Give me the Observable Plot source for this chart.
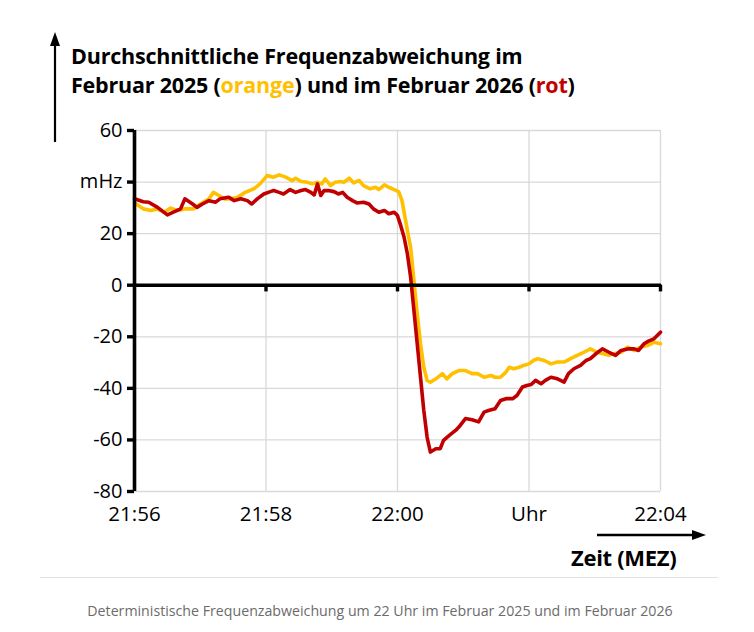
<!DOCTYPE html>
<html>
<head>
<meta charset="utf-8">
<script src="https://cdn.jsdelivr.net/npm/d3@7"></script>
<script src="https://cdn.jsdelivr.net/npm/@observablehq/plot@0.6"></script>
<style>
  body { margin: 0; background: #fff; font-family: "Open Sans", sans-serif; }
  #wrap { position: relative; width: 754px; height: 632px; overflow: hidden; background: #fff; }
  #title { position: absolute; left: 71px; top: 41px; font-weight: 700; font-size: 21.5px; line-height: 29px; color: #000; white-space: nowrap; letter-spacing: -0.2px; }
  #chart { position: absolute; left: 0; top: 0; }
  #overlay { position: absolute; left: 0; top: 0; pointer-events: none; }
  #sep { position: absolute; left: 40px; width: 678px; top: 577px; border-top: 1px solid #e2e2e2; }
  #caption { position: absolute; left: 0; width: 760px; top: 601px; text-align: center; color: #6b6b6b; font-size: 14.2px; white-space: nowrap; }
  #xlabel { position: absolute; left: 571px; top: 542px; font-weight: 700; font-size: 22px; color: #000; white-space: nowrap; letter-spacing: -0.3px; }
</style>
</head>
<body>
<div id="wrap">
  <div id="chart"></div>
  <div id="title">Durchschnittliche Frequenzabweichung im<br>Februar 2025 (<span style="color:#FFC000">orange</span>) und im Februar 2026 (<span style="color:#C00000">rot</span>)</div>
  <div id="xlabel">Zeit (MEZ)</div>
  <div id="sep"></div>
  <div id="caption">Deterministische Frequenzabweichung um 22 Uhr im Februar 2025 und im Februar 2026</div>
</div>
<script>
// Time in seconds after 21:56:00 (MEZ), deviation in mHz
const orangeTime = [0,8,15,21,27,33,39,46,54,60,68,72,77,82,88,94,101,109,115,121,127,132,138,144,147,152,158,162,167,171,174,179,183,188,191,196,200,205,209,215,220,223,228,232,237,241,244,247,250,252,255,258,261,264,267,270,275,281,285,290,296,302,308,313,319,325,329,334,339,342,346,351,355,360,364,368,374,380,386,392,398,404,410,416,422,428,433,437,444,450,456,462,468,474,480];
const orangeValue = [32,29.6,29,29.6,28.3,29.9,29,29.6,29.6,31.5,33.5,36,34.8,33.5,33.5,34.1,36,37.4,39.5,42.5,41.9,42.8,41.9,40.6,41.5,40.2,39.9,39.3,39.9,39.3,41.2,38.6,39.9,40.2,39.9,41.5,39.7,40.6,38.6,37.4,38,37.1,38.9,38,37.1,36.3,33,26,19,14.7,1.8,-11.1,-22.7,-31.8,-36.9,-37.6,-36.3,-34.3,-36.3,-34.3,-33.1,-33.1,-34.3,-34.3,-35.7,-35,-35.7,-35.7,-33.7,-31.8,-32.4,-31.8,-31.1,-30.5,-29.2,-28.5,-29.2,-30.5,-29.8,-29.8,-28.5,-27.2,-26,-24.7,-26,-26.6,-27.2,-26.6,-26,-24,-25.3,-24,-23.4,-22.1,-22.7];

const redTime = [0,8,13,21,30,37,42,46,53,57,62,68,74,78,86,91,97,103,107,112,118,124,127,132,136,142,147,152,156,161,164,167,170,173,177,182,186,190,194,199,203,209,214,218,223,228,232,237,240,243,246,249,252,255,258,261,264,267,270,275,279,282,287,293,296,302,308,314,319,323,329,334,339,345,349,354,358,362,366,371,375,380,386,392,396,401,407,412,416,421,427,433,439,444,450,456,460,465,469,474,480];
const redValue = [33.5,32.4,32.2,30.2,27.3,28.6,29.6,33.5,31.5,30.2,31.5,32.8,32.2,33.5,34.1,32.8,33.5,32.8,31.5,33.5,35.4,36.3,36.7,36,35.4,37.1,36,36.7,37.1,36,35,39.3,34.8,36.7,36.7,36.3,35.4,36,34.1,32.8,31.9,32.2,31.5,29.6,28.3,29,27.7,28.3,27,23.1,18.6,12.2,3.1,-9.8,-22.7,-35.7,-48.6,-58.9,-64.7,-63.4,-63.4,-60.2,-58.3,-56.3,-55,-51.7,-52.2,-53,-49.2,-48.6,-47.9,-44.7,-44,-44,-42.8,-39.5,-38.9,-38.5,-36.9,-38.2,-36.9,-35.7,-36.3,-37.6,-34.3,-32.4,-31.1,-29.2,-28.5,-26.6,-24.7,-26,-27.2,-25.3,-24.7,-24.7,-25.3,-22.7,-21.7,-20.8,-18.2];

const xTicks = [0, 120, 240, 360, 480];
const xTickLabels = ["21:56", "21:58", "22:00", "Uhr", "22:04"];
const yTicks = [-80, -60, -40, -20, 0, 20, 40, 60];
const yTickLabels = ["-80", "-60", "-40", "-20", "0", "20", "mHz", "60"];

const orangeData = orangeTime.map((t, i) => ({t, v: orangeValue[i]}));
const redData = redTime.map((t, i) => ({t, v: redValue[i]}));

const chart = Plot.plot({
  width: 754,
  height: 580,
  marginTop: 130,
  marginLeft: 134,
  marginRight: 94,
  marginBottom: 89,
  style: {fontFamily: "Open Sans, sans-serif", fontSize: "20px", color: "#000", background: "transparent", overflow: "visible"},
  x: {domain: [0, 480]},
  y: {domain: [-80, 60]},
  marks: [
    Plot.gridY(yTicks, {stroke: "#d9d9d9", strokeOpacity: 1, strokeWidth: 1.3}),
    Plot.gridX(xTicks.slice(1), {stroke: "#d9d9d9", strokeOpacity: 1, strokeWidth: 1.3}),
    Plot.line(orangeData, {x: "t", y: "v", stroke: "#FFC000", strokeWidth: 3.6}),
    Plot.line(redData, {x: "t", y: "v", stroke: "#C00000", strokeWidth: 3.6}),
    Plot.ruleY([0], {x1: 0, x2: 481, stroke: "#000", strokeWidth: 3.4}),
    Plot.ruleX(xTicks.slice(1), {y1: 0, y2: -2.6, stroke: "#000", strokeWidth: 3.4}),
    Plot.ruleX([0], {y1: -80, y2: 60, stroke: "#000", strokeWidth: 3.6}),
    Plot.axisY(yTicks, {
      tickSize: 7, strokeWidth: 3.4, tickPadding: 5, fontSize: 20, label: null,
      tickFormat: (d) => yTickLabels[yTicks.indexOf(d)]
    }),
    Plot.axisX(xTicks, {
      tickSize: 0, tickPadding: 15, fontSize: 20.5, label: null,
      tickFormat: (d) => xTickLabels[xTicks.indexOf(d)]
    })
  ]
});
document.getElementById("chart").appendChild(chart);

// decorative arrows
const ov = d3.select("#wrap").append("svg").attr("id", "overlay").attr("width", 754).attr("height", 632);
ov.append("line").attr("x1", 55).attr("y1", 142).attr("x2", 55).attr("y2", 44).attr("stroke", "#000").attr("stroke-width", 2.2);
ov.append("path").attr("d", "M55,32 L50,46 L60,46 Z").attr("fill", "#000");
ov.append("line").attr("x1", 597).attr("y1", 535).attr("x2", 694).attr("y2", 535).attr("stroke", "#000").attr("stroke-width", 2.4);
ov.append("path").attr("d", "M706,535 L692,530 L692,540 Z").attr("fill", "#000");
</script>
</body>
</html>
